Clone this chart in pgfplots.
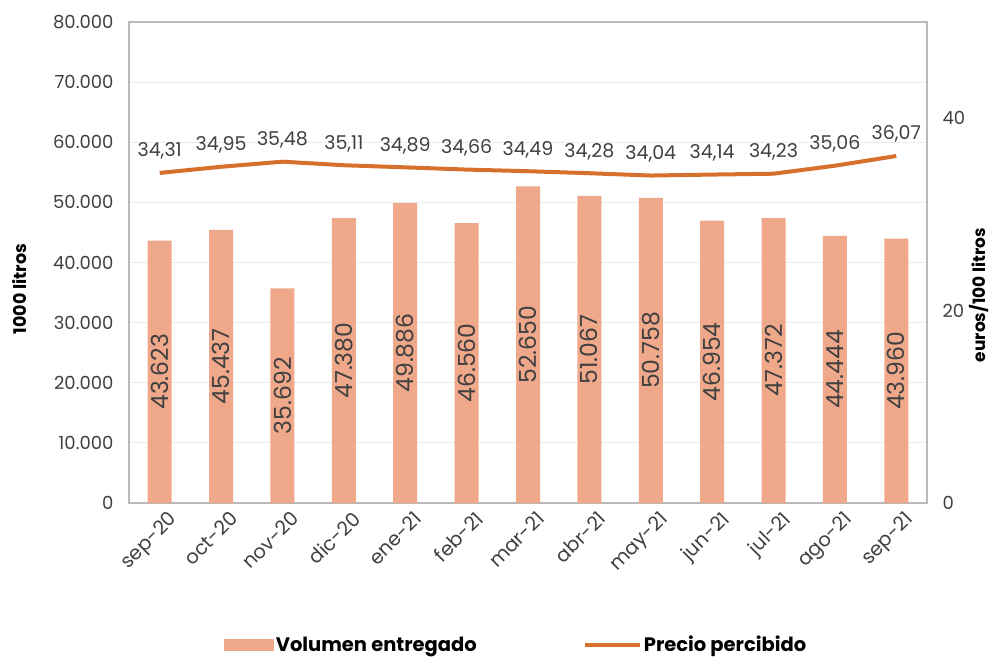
\documentclass[border=0pt]{standalone}
\usepackage{pgfplots}
\usepackage{pgfplotstable}
\pgfplotsset{compat=1.18}
\usepackage{fontspec}
\setmainfont{Poppins}
\definecolor{barc}{RGB}{240,168,138}
\definecolor{linec}{RGB}{214,112,44}
\definecolor{txt}{RGB}{64,64,64}
\definecolor{gridc}{RGB}{235,235,235}
\definecolor{framec}{RGB}{185,185,185}

\pgfplotstableread{
x v lab
0 43623 43.623
1 45437 45.437
2 35692 35.692
3 47380 47.380
4 49886 49.886
5 46560 46.560
6 52650 52.650
7 51067 51.067
8 50758 50.758
9 46954 46.954
10 47372 47.372
11 44444 44.444
12 43960 43.960
}\voldata

\pgfplotstableread{
x p lab
0 34.31 34,31
1 34.95 34,95
2 35.48 35,48
3 35.11 35,11
4 34.89 34,89
5 34.66 34,66
6 34.49 34,49
7 34.28 34,28
8 34.04 34,04
9 34.14 34,14
10 34.23 34,23
11 35.06 35,06
12 36.07 36,07
}\pricedata

\begin{document}
\begin{tikzpicture}
\useasboundingbox (0,0) rectangle (991pt,657pt);
\pgfplotsset{
  common/.style={
    scale only axis, width=798pt, height=481pt,
    at={(129pt,154pt)}, anchor=south west,
    xmin=-0.5, xmax=12.5,
    /pgf/number format/assume math mode=true,
    tick style={draw=none},
    ticklabel style={font=\fontsize{18}{22}\selectfont, text=txt},
    axis line style={framec, line width=1.5pt},
  }
}
\begin{axis}[common,
  ymin=0, ymax=80000, ytick={0,10000,...,80000},
  scaled y ticks=false,
  yticklabel style={/pgf/number format/.cd, 1000 sep={.}},
  yticklabel shift=12pt,
  ymajorgrids, grid style={gridc, line width=1pt},
  xtick={0,...,12},
  xticklabels={sep-20,oct-20,nov-20,dic-20,ene-21,feb-21,mar-21,abr-21,may-21,jun-21,jul-21,ago-21,sep-21},
  xticklabel style={rotate=45, anchor=north east, xshift=4pt, yshift=-7pt, font=\fontsize{19.5}{22}\selectfont},
  ylabel={1000 litros},
  ylabel style={at={(axis description cs:-0.137,0.445)}, anchor=center, font=\bfseries\fontsize{17.5}{20}\selectfont, text=black},
  legend columns=2,
  legend style={at={(axis description cs:0.485,-0.295)}, anchor=center, draw=none,
    font=\bfseries\fontsize{19.5}{22}\selectfont, text=black,
    /tikz/every even column/.append style={column sep=104pt}},
]
\addplot[ybar, bar width=24pt, fill=barc, draw=none,
  legend image code/.code={\fill[barc] (0pt,-6pt) rectangle (50pt,6pt);}]
  table[x=x, y=v] {\voldata};
\addlegendentry{Volumen entregado}
\addlegendimage{legend image code/.code={\draw[linec, line width=4pt] (0pt,0pt) -- (55pt,0pt);}}
\addlegendentry{Precio percibido}
\addplot[draw=none, mark=none, forget plot, nodes near coords, point meta=explicit symbolic,
  every node near coord/.append style={rotate=90, anchor=center, font=\fontsize{23.5}{26}\selectfont, text=txt}]
  table[x=x, y expr=\thisrow{v}/2, meta=lab] {\voldata};
\end{axis}
\begin{axis}[common,
  ymin=0, ymax=50, ytick={0,20,40},
  axis y line*=right, axis x line=none,
  yticklabel shift=12pt,
  ylabel={euros/100 litros},
  ylabel style={at={(axis description cs:1.0655,0.432)}, anchor=center, font=\bfseries\fontsize{17}{20}\selectfont, text=black},
]
\addplot[linec, line width=4pt, mark=none, nodes near coords, point meta=explicit symbolic,
  every node near coord/.append style={anchor=south, yshift=8pt, font=\fontsize{19}{22}\selectfont, text=txt}]
  table[x=x, y=p, meta=lab] {\pricedata};
\end{axis}
\end{tikzpicture}
\end{document}
